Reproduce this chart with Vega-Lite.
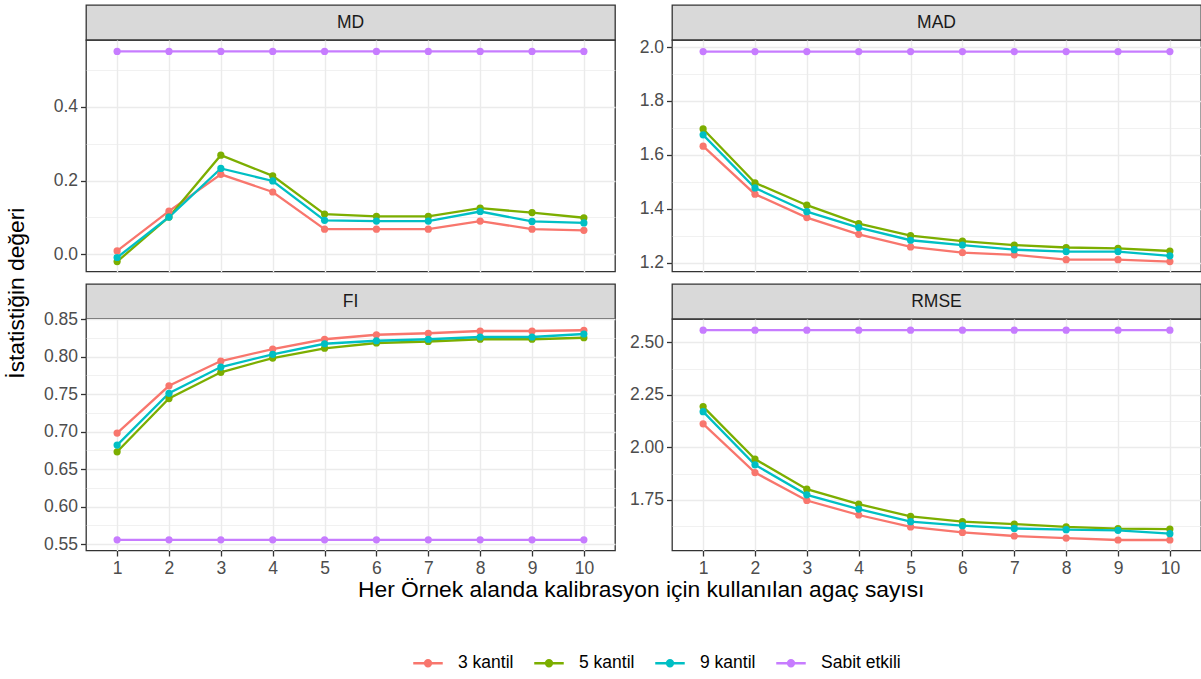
{
  "$schema": "https://vega.github.io/schema/vega-lite/v6.json",
  "padding": {"left": 5, "top": 4, "right": 0, "bottom": 0},
  "config": {
    "font": "Liberation Sans",
    "axis": {"domain": false, "gridColor": "#ebebeb", "gridWidth": 1.4, "tickColor": "#333333", "tickSize": 5.5, "tickWidth": 1.3, "labelFontSize": 17.5, "labelColor": "#4d4d4d", "labelPadding": 3, "labelFont": "Liberation Sans"},
    "title": {"font": "Liberation Sans", "fontWeight": "normal", "color": "#000000", "fontSize": 22.8}
  },
  "datasets": {
    "d": [
      {"panel": "MD", "trees": 1, "series": "3 kantil", "value": 0.009},
      {"panel": "MD", "trees": 2, "series": "3 kantil", "value": 0.117},
      {"panel": "MD", "trees": 3, "series": "3 kantil", "value": 0.217},
      {"panel": "MD", "trees": 4, "series": "3 kantil", "value": 0.169},
      {"panel": "MD", "trees": 5, "series": "3 kantil", "value": 0.068},
      {"panel": "MD", "trees": 6, "series": "3 kantil", "value": 0.068},
      {"panel": "MD", "trees": 7, "series": "3 kantil", "value": 0.068},
      {"panel": "MD", "trees": 8, "series": "3 kantil", "value": 0.090},
      {"panel": "MD", "trees": 9, "series": "3 kantil", "value": 0.068},
      {"panel": "MD", "trees": 10, "series": "3 kantil", "value": 0.065},
      {"panel": "MD", "trees": 1, "series": "5 kantil", "value": -0.020},
      {"panel": "MD", "trees": 2, "series": "5 kantil", "value": 0.101},
      {"panel": "MD", "trees": 3, "series": "5 kantil", "value": 0.269},
      {"panel": "MD", "trees": 4, "series": "5 kantil", "value": 0.213},
      {"panel": "MD", "trees": 5, "series": "5 kantil", "value": 0.109},
      {"panel": "MD", "trees": 6, "series": "5 kantil", "value": 0.103},
      {"panel": "MD", "trees": 7, "series": "5 kantil", "value": 0.103},
      {"panel": "MD", "trees": 8, "series": "5 kantil", "value": 0.125},
      {"panel": "MD", "trees": 9, "series": "5 kantil", "value": 0.113},
      {"panel": "MD", "trees": 10, "series": "5 kantil", "value": 0.099},
      {"panel": "MD", "trees": 1, "series": "9 kantil", "value": -0.009},
      {"panel": "MD", "trees": 2, "series": "9 kantil", "value": 0.101},
      {"panel": "MD", "trees": 3, "series": "9 kantil", "value": 0.233},
      {"panel": "MD", "trees": 4, "series": "9 kantil", "value": 0.199},
      {"panel": "MD", "trees": 5, "series": "9 kantil", "value": 0.092},
      {"panel": "MD", "trees": 6, "series": "9 kantil", "value": 0.090},
      {"panel": "MD", "trees": 7, "series": "9 kantil", "value": 0.090},
      {"panel": "MD", "trees": 8, "series": "9 kantil", "value": 0.116},
      {"panel": "MD", "trees": 9, "series": "9 kantil", "value": 0.089},
      {"panel": "MD", "trees": 10, "series": "9 kantil", "value": 0.085},
      {"panel": "MD", "trees": 1, "series": "Sabit etkili", "value": 0.551},
      {"panel": "MD", "trees": 2, "series": "Sabit etkili", "value": 0.551},
      {"panel": "MD", "trees": 3, "series": "Sabit etkili", "value": 0.551},
      {"panel": "MD", "trees": 4, "series": "Sabit etkili", "value": 0.551},
      {"panel": "MD", "trees": 5, "series": "Sabit etkili", "value": 0.551},
      {"panel": "MD", "trees": 6, "series": "Sabit etkili", "value": 0.551},
      {"panel": "MD", "trees": 7, "series": "Sabit etkili", "value": 0.551},
      {"panel": "MD", "trees": 8, "series": "Sabit etkili", "value": 0.551},
      {"panel": "MD", "trees": 9, "series": "Sabit etkili", "value": 0.551},
      {"panel": "MD", "trees": 10, "series": "Sabit etkili", "value": 0.551},

      {"panel": "MAD", "trees": 1, "series": "3 kantil", "value": 1.632},
      {"panel": "MAD", "trees": 2, "series": "3 kantil", "value": 1.454},
      {"panel": "MAD", "trees": 3, "series": "3 kantil", "value": 1.367},
      {"panel": "MAD", "trees": 4, "series": "3 kantil", "value": 1.305},
      {"panel": "MAD", "trees": 5, "series": "3 kantil", "value": 1.258},
      {"panel": "MAD", "trees": 6, "series": "3 kantil", "value": 1.237},
      {"panel": "MAD", "trees": 7, "series": "3 kantil", "value": 1.229},
      {"panel": "MAD", "trees": 8, "series": "3 kantil", "value": 1.211},
      {"panel": "MAD", "trees": 9, "series": "3 kantil", "value": 1.211},
      {"panel": "MAD", "trees": 10, "series": "3 kantil", "value": 1.204},
      {"panel": "MAD", "trees": 1, "series": "5 kantil", "value": 1.696},
      {"panel": "MAD", "trees": 2, "series": "5 kantil", "value": 1.496},
      {"panel": "MAD", "trees": 3, "series": "5 kantil", "value": 1.413},
      {"panel": "MAD", "trees": 4, "series": "5 kantil", "value": 1.345},
      {"panel": "MAD", "trees": 5, "series": "5 kantil", "value": 1.300},
      {"panel": "MAD", "trees": 6, "series": "5 kantil", "value": 1.280},
      {"panel": "MAD", "trees": 7, "series": "5 kantil", "value": 1.265},
      {"panel": "MAD", "trees": 8, "series": "5 kantil", "value": 1.256},
      {"panel": "MAD", "trees": 9, "series": "5 kantil", "value": 1.253},
      {"panel": "MAD", "trees": 10, "series": "5 kantil", "value": 1.243},
      {"panel": "MAD", "trees": 1, "series": "9 kantil", "value": 1.674},
      {"panel": "MAD", "trees": 2, "series": "9 kantil", "value": 1.477},
      {"panel": "MAD", "trees": 3, "series": "9 kantil", "value": 1.389},
      {"panel": "MAD", "trees": 4, "series": "9 kantil", "value": 1.330},
      {"panel": "MAD", "trees": 5, "series": "9 kantil", "value": 1.283},
      {"panel": "MAD", "trees": 6, "series": "9 kantil", "value": 1.265},
      {"panel": "MAD", "trees": 7, "series": "9 kantil", "value": 1.248},
      {"panel": "MAD", "trees": 8, "series": "9 kantil", "value": 1.241},
      {"panel": "MAD", "trees": 9, "series": "9 kantil", "value": 1.241},
      {"panel": "MAD", "trees": 10, "series": "9 kantil", "value": 1.225},
      {"panel": "MAD", "trees": 1, "series": "Sabit etkili", "value": 1.983},
      {"panel": "MAD", "trees": 2, "series": "Sabit etkili", "value": 1.983},
      {"panel": "MAD", "trees": 3, "series": "Sabit etkili", "value": 1.983},
      {"panel": "MAD", "trees": 4, "series": "Sabit etkili", "value": 1.983},
      {"panel": "MAD", "trees": 5, "series": "Sabit etkili", "value": 1.983},
      {"panel": "MAD", "trees": 6, "series": "Sabit etkili", "value": 1.983},
      {"panel": "MAD", "trees": 7, "series": "Sabit etkili", "value": 1.983},
      {"panel": "MAD", "trees": 8, "series": "Sabit etkili", "value": 1.983},
      {"panel": "MAD", "trees": 9, "series": "Sabit etkili", "value": 1.983},
      {"panel": "MAD", "trees": 10, "series": "Sabit etkili", "value": 1.983},

      {"panel": "FI", "trees": 1, "series": "3 kantil", "value": 0.698},
      {"panel": "FI", "trees": 2, "series": "3 kantil", "value": 0.761},
      {"panel": "FI", "trees": 3, "series": "3 kantil", "value": 0.794},
      {"panel": "FI", "trees": 4, "series": "3 kantil", "value": 0.810},
      {"panel": "FI", "trees": 5, "series": "3 kantil", "value": 0.823},
      {"panel": "FI", "trees": 6, "series": "3 kantil", "value": 0.829},
      {"panel": "FI", "trees": 7, "series": "3 kantil", "value": 0.831},
      {"panel": "FI", "trees": 8, "series": "3 kantil", "value": 0.834},
      {"panel": "FI", "trees": 9, "series": "3 kantil", "value": 0.834},
      {"panel": "FI", "trees": 10, "series": "3 kantil", "value": 0.835},
      {"panel": "FI", "trees": 1, "series": "5 kantil", "value": 0.673},
      {"panel": "FI", "trees": 2, "series": "5 kantil", "value": 0.744},
      {"panel": "FI", "trees": 3, "series": "5 kantil", "value": 0.779},
      {"panel": "FI", "trees": 4, "series": "5 kantil", "value": 0.798},
      {"panel": "FI", "trees": 5, "series": "5 kantil", "value": 0.811},
      {"panel": "FI", "trees": 6, "series": "5 kantil", "value": 0.818},
      {"panel": "FI", "trees": 7, "series": "5 kantil", "value": 0.820},
      {"panel": "FI", "trees": 8, "series": "5 kantil", "value": 0.823},
      {"panel": "FI", "trees": 9, "series": "5 kantil", "value": 0.823},
      {"panel": "FI", "trees": 10, "series": "5 kantil", "value": 0.825},
      {"panel": "FI", "trees": 1, "series": "9 kantil", "value": 0.682},
      {"panel": "FI", "trees": 2, "series": "9 kantil", "value": 0.751},
      {"panel": "FI", "trees": 3, "series": "9 kantil", "value": 0.786},
      {"panel": "FI", "trees": 4, "series": "9 kantil", "value": 0.803},
      {"panel": "FI", "trees": 5, "series": "9 kantil", "value": 0.817},
      {"panel": "FI", "trees": 6, "series": "9 kantil", "value": 0.821},
      {"panel": "FI", "trees": 7, "series": "9 kantil", "value": 0.823},
      {"panel": "FI", "trees": 8, "series": "9 kantil", "value": 0.826},
      {"panel": "FI", "trees": 9, "series": "9 kantil", "value": 0.826},
      {"panel": "FI", "trees": 10, "series": "9 kantil", "value": 0.830},
      {"panel": "FI", "trees": 1, "series": "Sabit etkili", "value": 0.5557},
      {"panel": "FI", "trees": 2, "series": "Sabit etkili", "value": 0.5557},
      {"panel": "FI", "trees": 3, "series": "Sabit etkili", "value": 0.5557},
      {"panel": "FI", "trees": 4, "series": "Sabit etkili", "value": 0.5557},
      {"panel": "FI", "trees": 5, "series": "Sabit etkili", "value": 0.5557},
      {"panel": "FI", "trees": 6, "series": "Sabit etkili", "value": 0.5557},
      {"panel": "FI", "trees": 7, "series": "Sabit etkili", "value": 0.5557},
      {"panel": "FI", "trees": 8, "series": "Sabit etkili", "value": 0.5557},
      {"panel": "FI", "trees": 9, "series": "Sabit etkili", "value": 0.5557},
      {"panel": "FI", "trees": 10, "series": "Sabit etkili", "value": 0.5557},

      {"panel": "RMSE", "trees": 1, "series": "3 kantil", "value": 2.112},
      {"panel": "RMSE", "trees": 2, "series": "3 kantil", "value": 1.880},
      {"panel": "RMSE", "trees": 3, "series": "3 kantil", "value": 1.747},
      {"panel": "RMSE", "trees": 4, "series": "3 kantil", "value": 1.678},
      {"panel": "RMSE", "trees": 5, "series": "3 kantil", "value": 1.621},
      {"panel": "RMSE", "trees": 6, "series": "3 kantil", "value": 1.595},
      {"panel": "RMSE", "trees": 7, "series": "3 kantil", "value": 1.578},
      {"panel": "RMSE", "trees": 8, "series": "3 kantil", "value": 1.568},
      {"panel": "RMSE", "trees": 9, "series": "3 kantil", "value": 1.559},
      {"panel": "RMSE", "trees": 10, "series": "3 kantil", "value": 1.559},
      {"panel": "RMSE", "trees": 1, "series": "5 kantil", "value": 2.194},
      {"panel": "RMSE", "trees": 2, "series": "5 kantil", "value": 1.944},
      {"panel": "RMSE", "trees": 3, "series": "5 kantil", "value": 1.801},
      {"panel": "RMSE", "trees": 4, "series": "5 kantil", "value": 1.730},
      {"panel": "RMSE", "trees": 5, "series": "5 kantil", "value": 1.671},
      {"panel": "RMSE", "trees": 6, "series": "5 kantil", "value": 1.646},
      {"panel": "RMSE", "trees": 7, "series": "5 kantil", "value": 1.635},
      {"panel": "RMSE", "trees": 8, "series": "5 kantil", "value": 1.621},
      {"panel": "RMSE", "trees": 9, "series": "5 kantil", "value": 1.613},
      {"panel": "RMSE", "trees": 10, "series": "5 kantil", "value": 1.611},
      {"panel": "RMSE", "trees": 1, "series": "9 kantil", "value": 2.170},
      {"panel": "RMSE", "trees": 2, "series": "9 kantil", "value": 1.917},
      {"panel": "RMSE", "trees": 3, "series": "9 kantil", "value": 1.774},
      {"panel": "RMSE", "trees": 4, "series": "9 kantil", "value": 1.706},
      {"panel": "RMSE", "trees": 5, "series": "9 kantil", "value": 1.646},
      {"panel": "RMSE", "trees": 6, "series": "9 kantil", "value": 1.627},
      {"panel": "RMSE", "trees": 7, "series": "9 kantil", "value": 1.614},
      {"panel": "RMSE", "trees": 8, "series": "9 kantil", "value": 1.608},
      {"panel": "RMSE", "trees": 9, "series": "9 kantil", "value": 1.605},
      {"panel": "RMSE", "trees": 10, "series": "9 kantil", "value": 1.589},
      {"panel": "RMSE", "trees": 1, "series": "Sabit etkili", "value": 2.558},
      {"panel": "RMSE", "trees": 2, "series": "Sabit etkili", "value": 2.558},
      {"panel": "RMSE", "trees": 3, "series": "Sabit etkili", "value": 2.558},
      {"panel": "RMSE", "trees": 4, "series": "Sabit etkili", "value": 2.558},
      {"panel": "RMSE", "trees": 5, "series": "Sabit etkili", "value": 2.558},
      {"panel": "RMSE", "trees": 6, "series": "Sabit etkili", "value": 2.558},
      {"panel": "RMSE", "trees": 7, "series": "Sabit etkili", "value": 2.558},
      {"panel": "RMSE", "trees": 8, "series": "Sabit etkili", "value": 2.558},
      {"panel": "RMSE", "trees": 9, "series": "Sabit etkili", "value": 2.558},
      {"panel": "RMSE", "trees": 10, "series": "Sabit etkili", "value": 2.558}
    ]
  },
  "title": {"text": "İstatistiğin değeri", "orient": "left", "anchor": "middle", "offset": 14, "dx": 45},
  "vconcat": [
    {
      "title": {"text": "Her Örnek alanda kalibrasyon için kullanılan agaç sayısı", "orient": "bottom", "anchor": "middle", "offset": 2, "dx": 19},
      "columns": 2,
      "spacing": {"row": 10, "column": 12},
      "concat": [
        {
          "spacing": 0,
          "bounds": "flush",
          "vconcat": [
            {"width": 529, "height": 35, "data": {"values": [{"label": "MD"}]}, "view": {"fill": "#d9d9d9", "stroke": "#333333", "strokeWidth": 1.3},
             "mark": {"type": "text", "fontSize": 17.5, "color": "#1a1a1a", "baseline": "middle", "align": "center"}, "encoding": {"text": {"field": "label"}}},
            {"width": 529, "height": 231.5, "data": {"name": "d"}, "transform": [{"filter": {"field": "panel", "equal": "MD"}}],
             "view": {"stroke": "#333333", "strokeWidth": 1.3},
             "encoding": {
               "x": {"field": "trees", "type": "ordinal", "scale": {"type": "point", "padding": 0.6}, "axis": {"labels": false, "ticks": false, "domain": false, "grid": true, "title": null}},
               "color": {"field": "series", "type": "nominal", "scale": {"domain": ["3 kantil", "5 kantil", "9 kantil", "Sabit etkili"], "range": ["#F8766D", "#7CAE00", "#00BFC4", "#C77CFF"]},
                 "legend": {"title": null, "orient": "none", "legendX": 326, "legendY": 642, "direction": "horizontal", "symbolType": "M-1,0H1M-0.2,0A0.2,0.2,0,1,1,0.2,0A0.2,0.2,0,1,1,-0.2,0Z", "symbolSize": 870, "symbolStrokeWidth": 2.4, "symbolOpacity": 1, "labelFontSize": 17.5, "labelColor": "#000000", "labelOffset": 14, "columnPadding": 15, "padding": 0,
                   "encode": {"symbols": {"update": {"fill": {"scale": "color", "field": "value"}, "stroke": {"scale": "color", "field": "value"}, "opacity": {"value": 1}}}}}}
             },
             "layer": [
               {"mark": {"type": "line", "strokeWidth": 2.3}, "encoding": {"y": {"field": "value", "type": "quantitative", "scale": {"domain": [-0.047, 0.582], "nice": false, "zero": false}, "axis": {"values": [0, 0.2, 0.4], "format": ".1f", "grid": true, "title": null}}}},
               {"mark": {"type": "point", "filled": true, "size": 52, "opacity": 1}, "encoding": {"y": {"field": "value", "type": "quantitative", "scale": {"domain": [-0.047, 0.582], "nice": false, "zero": false}, "axis": {"orient": "right", "values": [0.1, 0.3, 0.5], "grid": true, "gridWidth": 0.7, "labels": false, "ticks": false, "domain": false, "title": null}}}}
             ],
             "resolve": {"axis": {"y": "independent"}}}
          ]
        },
        {
          "spacing": 0,
          "bounds": "flush",
          "vconcat": [
            {"width": 529, "height": 35, "data": {"values": [{"label": "MAD"}]}, "view": {"fill": "#d9d9d9", "stroke": "#333333", "strokeWidth": 1.3},
             "mark": {"type": "text", "fontSize": 17.5, "color": "#1a1a1a", "baseline": "middle", "align": "center"}, "encoding": {"text": {"field": "label"}}},
            {"width": 529, "height": 231.5, "data": {"name": "d"}, "transform": [{"filter": {"field": "panel", "equal": "MAD"}}],
             "view": {"stroke": "#333333", "strokeWidth": 1.3},
             "encoding": {
               "x": {"field": "trees", "type": "ordinal", "scale": {"type": "point", "padding": 0.6}, "axis": {"labels": false, "ticks": false, "domain": false, "grid": true, "title": null}},
               "color": {"field": "series", "type": "nominal", "scale": {"domain": ["3 kantil", "5 kantil", "9 kantil", "Sabit etkili"], "range": ["#F8766D", "#7CAE00", "#00BFC4", "#C77CFF"]},
                 "legend": {"title": null, "orient": "none", "legendX": 326, "legendY": 642, "direction": "horizontal", "symbolType": "M-1,0H1M-0.2,0A0.2,0.2,0,1,1,0.2,0A0.2,0.2,0,1,1,-0.2,0Z", "symbolSize": 870, "symbolStrokeWidth": 2.4, "symbolOpacity": 1, "labelFontSize": 17.5, "labelColor": "#000000", "labelOffset": 14, "columnPadding": 15, "padding": 0,
                   "encode": {"symbols": {"update": {"fill": {"scale": "color", "field": "value"}, "stroke": {"scale": "color", "field": "value"}, "opacity": {"value": 1}}}}}}
             },
             "layer": [
               {"mark": {"type": "line", "strokeWidth": 2.3}, "encoding": {"y": {"field": "value", "type": "quantitative", "scale": {"domain": [1.167, 2.026], "nice": false, "zero": false}, "axis": {"values": [1.2, 1.4, 1.6, 1.8, 2.0], "format": ".1f", "grid": true, "title": null}}}},
               {"mark": {"type": "point", "filled": true, "size": 52, "opacity": 1}, "encoding": {"y": {"field": "value", "type": "quantitative", "scale": {"domain": [1.167, 2.026], "nice": false, "zero": false}, "axis": {"orient": "right", "values": [1.3, 1.5, 1.7, 1.9], "grid": true, "gridWidth": 0.7, "labels": false, "ticks": false, "domain": false, "title": null}}}}
             ],
             "resolve": {"axis": {"y": "independent"}}}
          ]
        },
        {
          "spacing": 0,
          "bounds": "flush",
          "vconcat": [
            {"width": 529, "height": 35, "data": {"values": [{"label": "FI"}]}, "view": {"fill": "#d9d9d9", "stroke": "#333333", "strokeWidth": 1.3},
             "mark": {"type": "text", "fontSize": 17.5, "color": "#1a1a1a", "baseline": "middle", "align": "center"}, "encoding": {"text": {"field": "label"}}},
            {"width": 529, "height": 231.5, "data": {"name": "d"}, "transform": [{"filter": {"field": "panel", "equal": "FI"}}],
             "view": {"stroke": "#333333", "strokeWidth": 1.3},
             "encoding": {
               "x": {"field": "trees", "type": "ordinal", "scale": {"type": "point", "padding": 0.6}, "axis": {"labelAngle": 0, "domain": false, "grid": true, "title": null}},
               "color": {"field": "series", "type": "nominal", "scale": {"domain": ["3 kantil", "5 kantil", "9 kantil", "Sabit etkili"], "range": ["#F8766D", "#7CAE00", "#00BFC4", "#C77CFF"]},
                 "legend": {"title": null, "orient": "none", "legendX": 326, "legendY": 642, "direction": "horizontal", "symbolType": "M-1,0H1M-0.2,0A0.2,0.2,0,1,1,0.2,0A0.2,0.2,0,1,1,-0.2,0Z", "symbolSize": 870, "symbolStrokeWidth": 2.4, "symbolOpacity": 1, "labelFontSize": 17.5, "labelColor": "#000000", "labelOffset": 14, "columnPadding": 15, "padding": 0,
                   "encode": {"symbols": {"update": {"fill": {"scale": "color", "field": "value"}, "stroke": {"scale": "color", "field": "value"}, "opacity": {"value": 1}}}}}}
             },
             "layer": [
               {"mark": {"type": "line", "strokeWidth": 2.3}, "encoding": {"y": {"field": "value", "type": "quantitative", "scale": {"domain": [0.5415, 0.85], "nice": false, "zero": false}, "axis": {"values": [0.55, 0.6, 0.65, 0.7, 0.75, 0.8, 0.85], "format": ".2f", "grid": true, "title": null}}}},
               {"mark": {"type": "point", "filled": true, "size": 52, "opacity": 1}, "encoding": {"y": {"field": "value", "type": "quantitative", "scale": {"domain": [0.5415, 0.85], "nice": false, "zero": false}, "axis": {"orient": "right", "values": [0.575, 0.625, 0.675, 0.725, 0.775, 0.825], "grid": true, "gridWidth": 0.7, "labels": false, "ticks": false, "domain": false, "title": null}}}}
             ],
             "resolve": {"axis": {"y": "independent"}}}
          ]
        },
        {
          "spacing": 0,
          "bounds": "flush",
          "vconcat": [
            {"width": 529, "height": 35, "data": {"values": [{"label": "RMSE"}]}, "view": {"fill": "#d9d9d9", "stroke": "#333333", "strokeWidth": 1.3},
             "mark": {"type": "text", "fontSize": 17.5, "color": "#1a1a1a", "baseline": "middle", "align": "center"}, "encoding": {"text": {"field": "label"}}},
            {"width": 529, "height": 231.5, "data": {"name": "d"}, "transform": [{"filter": {"field": "panel", "equal": "RMSE"}}],
             "view": {"stroke": "#333333", "strokeWidth": 1.3},
             "encoding": {
               "x": {"field": "trees", "type": "ordinal", "scale": {"type": "point", "padding": 0.6}, "axis": {"labelAngle": 0, "domain": false, "grid": true, "title": null}},
               "color": {"field": "series", "type": "nominal", "scale": {"domain": ["3 kantil", "5 kantil", "9 kantil", "Sabit etkili"], "range": ["#F8766D", "#7CAE00", "#00BFC4", "#C77CFF"]},
                 "legend": {"title": null, "orient": "none", "legendX": 326, "legendY": 642, "direction": "horizontal", "symbolType": "M-1,0H1M-0.2,0A0.2,0.2,0,1,1,0.2,0A0.2,0.2,0,1,1,-0.2,0Z", "symbolSize": 870, "symbolStrokeWidth": 2.4, "symbolOpacity": 1, "labelFontSize": 17.5, "labelColor": "#000000", "labelOffset": 14, "columnPadding": 15, "padding": 0,
                   "encode": {"symbols": {"update": {"fill": {"scale": "color", "field": "value"}, "stroke": {"scale": "color", "field": "value"}, "opacity": {"value": 1}}}}}}
             },
             "layer": [
               {"mark": {"type": "line", "strokeWidth": 2.3}, "encoding": {"y": {"field": "value", "type": "quantitative", "scale": {"domain": [1.509, 2.611], "nice": false, "zero": false}, "axis": {"values": [1.75, 2.0, 2.25, 2.5], "format": ".2f", "grid": true, "title": null}}}},
               {"mark": {"type": "point", "filled": true, "size": 52, "opacity": 1}, "encoding": {"y": {"field": "value", "type": "quantitative", "scale": {"domain": [1.509, 2.611], "nice": false, "zero": false}, "axis": {"orient": "right", "values": [1.625, 1.875, 2.125, 2.375], "grid": true, "gridWidth": 0.7, "labels": false, "ticks": false, "domain": false, "title": null}}}}
             ],
             "resolve": {"axis": {"y": "independent"}}}
          ]
        }
      ]
    }
  ]
}
